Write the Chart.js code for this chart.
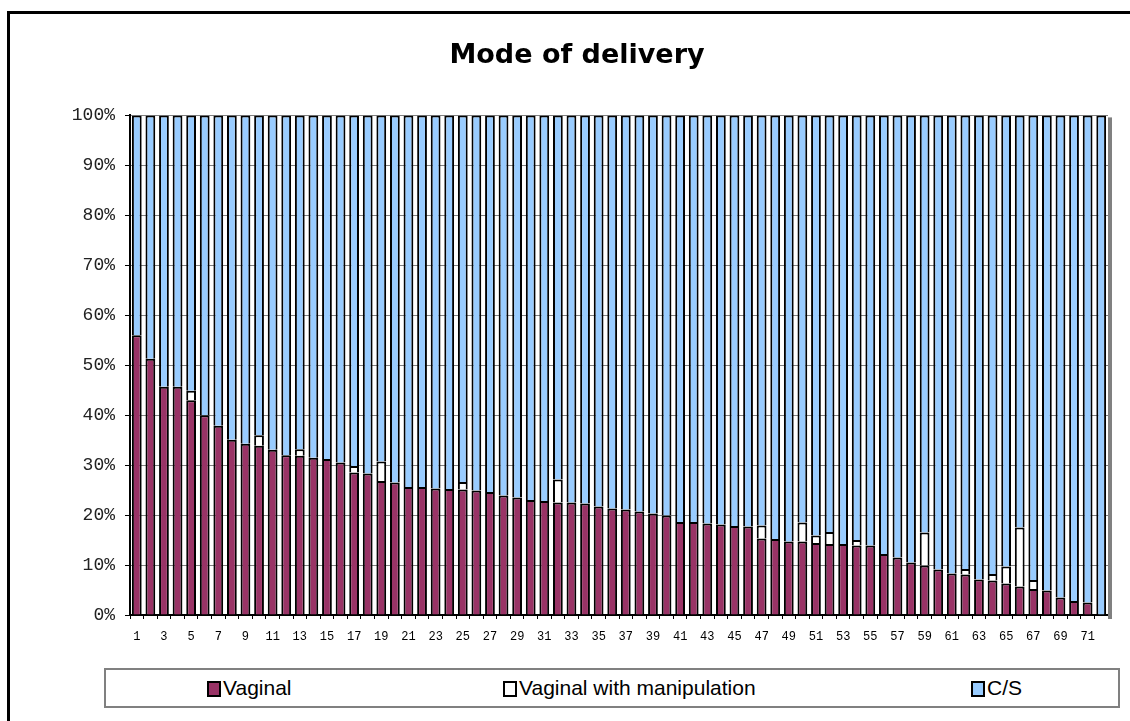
<!DOCTYPE html>
<html lang="en">
<head>
<meta charset="UTF-8" />
<title>Mode of delivery</title>
<script src="https://cdn.jsdelivr.net/npm/chart.js"></script>
<style>
  html, body { margin: 0; padding: 0; background: #fff; overflow: hidden; }
  #wrap { position: relative; width: 1130px; height: 721px; }
  #frame { position: absolute; left: 7px; top: 11px; width: 1140px; height: 730px; border: 3px solid #000; }
  #myChart { position: absolute; left: 0; top: 0; }
  #legend { position: absolute; left: 104px; top: 668px; width: 1016px; height: 40px; box-sizing: border-box; border: 2px solid #808080; background: #fff; font-family: "Liberation Sans", Arial, sans-serif; font-size: 21px; color: #000; }
  .item { position: absolute; top: 0; height: 36px; line-height: 36px; white-space: nowrap; }
  .sw { display: inline-block; width: 14px; height: 16px; box-sizing: border-box; border: 2px solid #000; vertical-align: -2px; margin-right: 2px; }
</style>
</head>
<body>
<div id="wrap">
  <div id="frame"></div>
  <canvas id="myChart" width="1130" height="721"></canvas>
  <div id="legend">
    <div class="item" style="left:101px"><span class="sw" style="background:#993366"></span>Vaginal</div>
    <div class="item" style="left:397px"><span class="sw" style="background:#ffffff"></span>Vaginal with manipulation</div>
    <div class="item" style="left:865px"><span class="sw" style="background:#99ccff"></span>C/S</div>
  </div>
</div>
<script>
const labels = [];
for (let i = 1; i <= 72; i++) labels.push(String(i));

const vaginal = [56, 51.3, 45.7, 45.7, 43, 40, 37.9, 35.1, 34.3, 33.9,
  33.1, 32, 31.9, 31.5, 31.2, 30.5, 28.5, 28.3, 26.8, 26.5,
  25.6, 25.6, 25.3, 25.2, 25.1, 24.9, 24.6, 23.9, 23.5, 23,
  22.8, 22.5, 22.5, 22.3, 21.7, 21.3, 21.1, 20.7, 20.3, 19.9,
  18.6, 18.6, 18.3, 18.1, 17.8, 17.7, 15.3, 15.2, 14.7, 14.7,
  14.4, 14.2, 14.2, 13.9, 13.9, 12.2, 11.5, 10.5, 9.9, 9.1,
  8.3, 8.1, 7.1, 6.9, 6.3, 5.7, 5.2, 4.9, 3.5, 2.8,
  2.5, 0];

const manipulation = [0, 0, 0, 0, 1.9, 0, 0, 0, 0, 2.1,
  0, 0, 1.3, 0, 0, 0, 1.3, 0, 3.9, 0,
  0, 0, 0, 0, 1.5, 0, 0, 0, 0, 0,
  0, 4.6, 0, 0, 0, 0, 0, 0, 0, 0,
  0, 0, 0, 0, 0, 0, 2.6, 0, 0, 3.8,
  1.5, 2.4, 0, 1.1, 0, 0, 0, 0, 6.6, 0,
  0, 1.1, 0, 1.3, 3.4, 11.8, 1.8, 0, 0, 0,
  0, 0];

const cs = [44, 48.7, 54.3, 54.3, 55.1, 60, 62.1, 64.9, 65.7, 64,
  66.9, 68, 66.8, 68.5, 68.8, 69.5, 70.2, 71.7, 69.3, 73.5,
  74.4, 74.4, 74.7, 74.8, 73.4, 75.1, 75.4, 76.1, 76.5, 77,
  77.2, 72.9, 77.5, 77.7, 78.3, 78.7, 78.9, 79.3, 79.7, 80.1,
  81.4, 81.4, 81.7, 81.9, 82.2, 82.3, 82.1, 84.8, 85.3, 81.5,
  84.1, 83.4, 85.8, 85, 86.1, 87.8, 88.5, 89.5, 83.5, 90.9,
  91.7, 90.8, 92.9, 91.8, 90.3, 82.5, 93, 95.1, 96.5, 97.2,
  97.5, 100];

// gray shadow right of the plot area
const plotShadow = {
  id: "plotShadow",
  beforeDatasetsDraw(chart) {
    const a = chart.chartArea;
    const ctx = chart.ctx;
    ctx.save();
    ctx.fillStyle = "#808080";
    ctx.fillRect(a.right, a.top + 2, 4, a.bottom - a.top + 2);
    ctx.restore();
  }
};

const barStyle = {
  borderColor: "#000",
  borderWidth: 2,
  borderSkipped: "start",
  barPercentage: 0.72,
  categoryPercentage: 1
};

const ctx = document.getElementById("myChart").getContext("2d");
const myChart = new Chart(ctx, {
  type: "bar",
  data: {
    labels: labels,
    datasets: [
      Object.assign({ label: "Vaginal", data: vaginal, backgroundColor: "#993366" }, barStyle),
      Object.assign({ label: "Vaginal with manipulation", data: manipulation, backgroundColor: "#ffffff" }, barStyle),
      Object.assign({ label: "C/S", data: cs, backgroundColor: "#99ccff" }, barStyle)
    ]
  },
  plugins: [plotShadow],
  options: {
    responsive: false,
    animation: false,
    layout: { padding: { left: 46, top: 12, right: 22, bottom: 66 } },
    plugins: {
      legend: { display: false },
      tooltip: { enabled: false },
      title: {
        display: true,
        text: "Mode of delivery",
        color: "#000",
        font: { family: "'DejaVu Sans', Verdana, sans-serif", size: 27, weight: "bold" },
        padding: { top: 28, bottom: 43 }
      }
    },
    scales: {
      x: {
        stacked: true,
        offset: true,
        afterFit: (s) => { s.height = 40; },
        grid: { display: true, drawOnChartArea: false, offset: true, color: "#000", tickLength: 4 },
        border: { display: true, color: "#000", width: 2 },
        ticks: {
          autoSkip: false,
          maxRotation: 0,
          padding: 11,
          color: "#000",
          font: { family: "'Liberation Mono', monospace", size: 12 },
          callback: function (v, i) { return i % 2 === 0 ? labels[i] : ""; }
        }
      },
      y: {
        stacked: true,
        min: 0,
        max: 100,
        afterFit: (s) => { s.width = 84; },
        grid: { color: "#808080", tickColor: "#000", tickLength: 5 },
        border: { display: true, color: "#000", width: 2 },
        ticks: {
          stepSize: 10,
          padding: 10,
          color: "#222",
          font: { family: "'Liberation Mono', monospace", size: 18 },
          callback: (v) => v + "%"
        }
      }
    }
  }
});
</script>
</body>
</html>
